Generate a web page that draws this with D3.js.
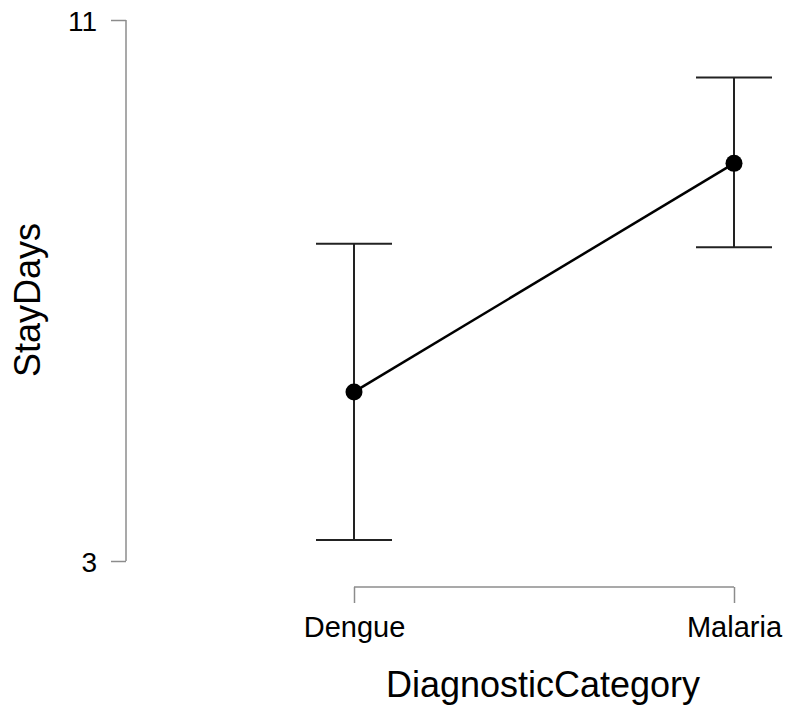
<!DOCTYPE html>
<html>
<head>
<meta charset="utf-8">
<script src="https://cdn.jsdelivr.net/npm/d3@7"></script>
<style>
  body { margin: 0; background: #fff; }
  text { font-family: "Liberation Sans", Arial, sans-serif; }
</style>
</head>
<body>
<svg id="chart" width="789" height="714"></svg>
<script>
// data
const categories = ["Dengue", "Malaria"];
const means = [5.50, 8.88];
const lower = [3.31, 7.64];
const upper = [7.69, 10.15];
const yTicks = [3, 11];

const svg = d3.select("#chart");

const x = d3.scalePoint()
  .domain(categories)
  .range([354, 734]);

const y = d3.scaleLinear()
  .domain([3, 11])
  .range([561, 20]);

const rows = categories.map((c, i) => ({ cat: c, mean: means[i], lo: lower[i], hi: upper[i] }));

// Y axis
const yAxis = svg.append("g")
  .attr("transform", "translate(126,0)")
  .call(d3.axisLeft(y).tickValues(yTicks).tickSize(15).tickPadding(14).tickFormat(d3.format("d")));
yAxis.select(".domain").attr("stroke", "#8c8c8c").attr("stroke-width", 1.5)
  .attr("d", `M0,${y(3)}V${y(11)}`);
yAxis.selectAll(".tick line").attr("stroke", "#8c8c8c").attr("stroke-width", 1.5);
yAxis.selectAll(".tick text").style("font-size", "28px").attr("fill", "#000").attr("dy", "0.36em");

// X axis
const xAxis = svg.append("g")
  .attr("transform", "translate(0,587)")
  .call(d3.axisBottom(x).tickSize(16));
xAxis.select(".domain").attr("stroke", "#8c8c8c").attr("stroke-width", 1.5)
  .attr("d", `M${x("Dengue")},0H${x("Malaria")}`);
xAxis.selectAll(".tick line").attr("stroke", "#8c8c8c").attr("stroke-width", 1.5);
xAxis.selectAll(".tick text").style("font-size", "29px").attr("fill", "#000")
  .attr("y", 50).attr("dy", 0);

// Error bars
const capHalf = 38;
const bars = svg.append("g").attr("stroke", "#222").attr("stroke-width", 2);
bars.selectAll(".v").data(rows).enter().append("line")
  .attr("x1", d => x(d.cat)).attr("x2", d => x(d.cat))
  .attr("y1", d => y(d.lo)).attr("y2", d => y(d.hi));
bars.selectAll(".top").data(rows).enter().append("line")
  .attr("x1", d => x(d.cat) - capHalf).attr("x2", d => x(d.cat) + capHalf)
  .attr("y1", d => y(d.hi)).attr("y2", d => y(d.hi));
bars.selectAll(".bot").data(rows).enter().append("line")
  .attr("x1", d => x(d.cat) - capHalf).attr("x2", d => x(d.cat) + capHalf)
  .attr("y1", d => y(d.lo)).attr("y2", d => y(d.lo));

// Mean line
const line = d3.line().x(d => x(d.cat)).y(d => y(d.mean));
svg.append("path")
  .datum(rows)
  .attr("fill", "none")
  .attr("stroke", "#000")
  .attr("stroke-width", 2.5)
  .attr("d", line);

// Points
svg.selectAll(".pt").data(rows).enter().append("circle")
  .attr("cx", d => x(d.cat))
  .attr("cy", d => y(d.mean))
  .attr("r", 8.5)
  .attr("fill", "#000");

// Axis titles
svg.append("text")
  .attr("x", 543)
  .attr("y", 697)
  .attr("text-anchor", "middle")
  .style("font-size", "36px")
  .text("DiagnosticCategory");

svg.append("text")
  .attr("transform", "translate(40,300) rotate(-90)")
  .attr("text-anchor", "middle")
  .style("font-size", "36px")
  .text("StayDays");
</script>
</body>
</html>
